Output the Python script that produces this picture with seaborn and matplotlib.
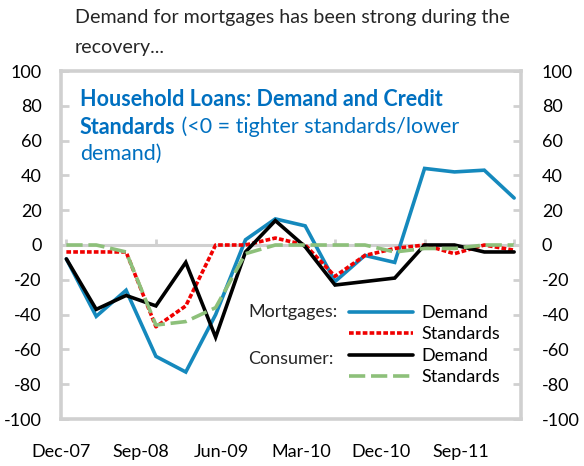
import matplotlib
matplotlib.use("Agg")
import matplotlib.pyplot as plt
import seaborn as sns
import pandas as pd

# Quarterly survey periods
quarters = ["Dec-07", "Mar-08", "Jun-08", "Sep-08", "Dec-08", "Mar-09", "Jun-09",
            "Sep-09", "Dec-09", "Mar-10", "Jun-10", "Sep-10", "Dec-10", "Mar-11",
            "Jun-11", "Sep-11"]

# Net balances (<0 = tighter standards / lower demand)
mortgage_demand = [-8, -41, -26, -64, -73, -40, 3, 15, 11, -21, -6, -10, 44, 42, 43, 27]
mortgage_standards = [-4, -4, -4, -47, -35, 0, 0, 4, 0, -18, -6, -2, 0, -5, 0, -3]
consumer_demand = [-8, -37, -29, -35, -10, -53, -4, 14, -1, -23, -21, -19, 0, 0, -4, -4]
consumer_standards = [0, 0, -4, -46, -44, -36, -5, 0, 0, 0, 0, -4, -2, -2, 0, 0]

x_labels = quarters[::3]
y_ticks = list(range(-100, 101, 20))

FONT = ["Lato", "DejaVu Sans"]
sns.set_theme(style="white")
plt.rcParams["font.family"] = FONT

W, H = 584, 466
fig = plt.figure(figsize=(W / 100, H / 100), dpi=100)

# axes frame in pixel units
L, R, T, B = 61, 521, 71, 419
ax = fig.add_axes([L / W, 1 - B / H, (R - L) / W, (B - T) / H])

df = pd.DataFrame({
    "idx": range(len(quarters)),
    "md": mortgage_demand,
    "ms": mortgage_standards,
    "cd": consumer_demand,
    "cs": consumer_standards,
})

lw = 2.6
sns.lineplot(data=df, x="idx", y="md", ax=ax, color="#1589BD", lw=lw,
             label="Demand", solid_joinstyle="miter")
sns.lineplot(data=df, x="idx", y="ms", ax=ax, color="#F00000", lw=lw,
             label="Standards")
sns.lineplot(data=df, x="idx", y="cd", ax=ax, color="#000000", lw=lw,
             label="Demand", solid_joinstyle="miter")
sns.lineplot(data=df, x="idx", y="cs", ax=ax, color="#8DC07A", lw=lw,
             label="Standards")
lines = ax.get_lines()
lines[1].set_dashes((1.3, 0.6))
lines[3].set_dashes((4.5, 1.6))
lines[1].set_dash_capstyle("butt")
lines[3].set_dash_capstyle("butt")

ax.set_xlim(-0.07, 15.23)
ax.set_ylim(-100, 100)

# zero line with category tick marks
grey = "#D0D0D0"
ax.axhline(0, color=grey, lw=2.2, zorder=1)
for k in range(0, len(quarters), 3):
    ax.plot([k, k], [0, 3.6], color=grey, lw=2.0, zorder=1, solid_capstyle="butt")

for s in ax.spines.values():
    s.set_color(grey)
    s.set_linewidth(2.6)

ax.set_xlabel("")
ax.set_ylabel("")
ax.set_yticks(y_ticks)
ax.set_yticklabels([str(v) for v in y_ticks], fontsize=13)
ax.tick_params(axis="y", direction="in", length=6, width=2, color=grey, pad=14,
               left=True, labelcolor="black")

# category labels under the frame
label_pos = [-0.18 + 2.68 * k for k in range(len(x_labels))]
ax.set_xticks(label_pos)
ax.set_xticklabels(x_labels, fontsize=13)
ax.tick_params(axis="x", length=0, pad=18, labelcolor="black")

ax2 = ax.twinx()
ax2.set_ylim(-100, 100)
ax2.set_yticks(y_ticks)
ax2.set_yticklabels([str(v) for v in y_ticks], fontsize=13)
ax2.tick_params(axis="y", direction="in", length=6, width=2, color=grey, pad=15,
                right=True, labelcolor="black")
for s in ax2.spines.values():
    s.set_visible(False)

# legend
leg = ax.legend(loc="upper left", bbox_to_anchor=(349 / W, 1 - 305 / H),
                bbox_transform=fig.transFigure, frameon=False, fontsize=13,
                handlelength=3.55, handletextpad=0.45, labelspacing=0.3,
                borderpad=0, borderaxespad=0)
for t in leg.get_texts():
    t.set_color("black")
fig.text(248 / W, 1 - 312 / H, "Mortgages:", fontsize=13, va="center", ha="left")
fig.text(248 / W, 1 - 359 / H, "Consumer:", fontsize=13, va="center", ha="left")

# headline
fig.text(75 / W, 1 - 18 / H, "Demand for mortgages has been strong during the",
         fontsize=14.1, va="center", ha="left")
fig.text(75 / W, 1 - 47 / H, "recovery...", fontsize=14.1, va="center", ha="left")

# chart title inside the frame
blue = "#0070C0"
fig.text(80 / W, 1 - 99 / H, "Household Loans: Demand and Credit", fontsize=15.5,
         fontweight="bold", color=blue, va="center", ha="left")
bold = fig.text(80 / W, 1 - 127 / H, "Standards", fontsize=15.5, fontweight="bold",
                color=blue, va="center", ha="left")
ax.annotate(" (<0 = tighter standards/lower", xy=(1, 0.5), xycoords=bold,
            fontsize=15.5, color=blue, va="center", ha="left")
fig.text(80 / W, 1 - 154 / H, "demand)", fontsize=15.5, color=blue, va="center",
         ha="left")

fig.savefig("out.png", dpi=100)
